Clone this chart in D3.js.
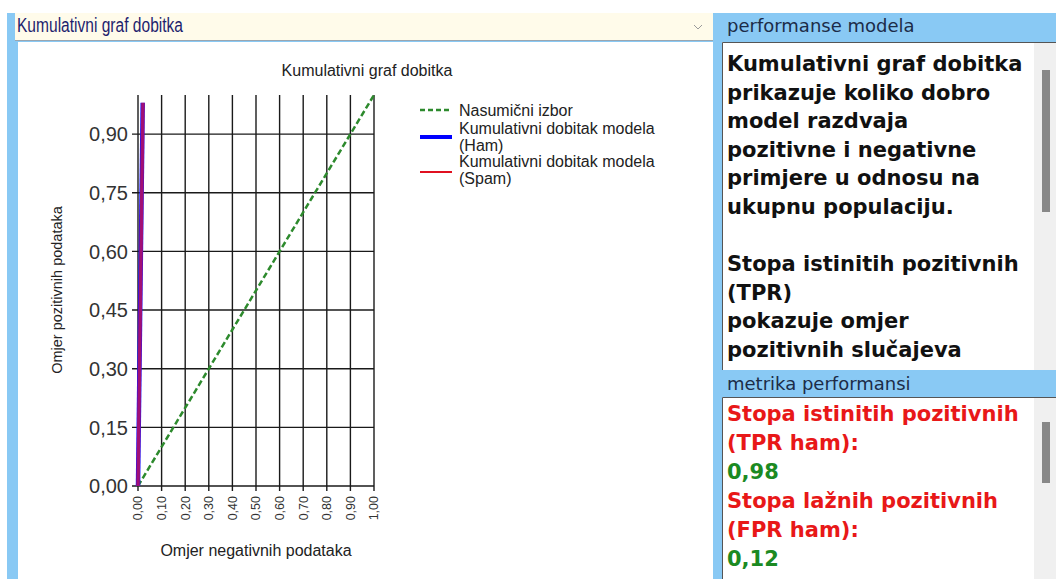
<!DOCTYPE html>
<meta charset="utf-8">
<script src="https://d3js.org/d3.v7.min.js"></script>
<style>
  body { margin: 0; background: #fff; }
  svg { display: block; }
</style>
<svg id="chart" width="1056" height="579"></svg>
<script>
// chart data
var xTicks = [0, 0.1, 0.2, 0.3, 0.4, 0.5, 0.6, 0.7, 0.8, 0.9, 1.0];
var yTicks = [0, 0.15, 0.30, 0.45, 0.60, 0.75, 0.90];
var randomX = [0, 1], randomY = [0, 1];
var hamX = [0, 0.02], hamY = [0, 0.98];
var spamX = [0, 0.021], spamY = [0, 0.98];
var legendLabels = [["Nasumični izbor"], ["Kumulativni dobitak modela", "(Ham)"], ["Kumulativni dobitak modela", "(Spam)"]];

// side panel texts
var infoLines = ["Kumulativni graf dobitka", "prikazuje koliko dobro", "model razdvaja", "pozitivne i negativne",
  "primjere u odnosu na", "ukupnu populaciju.", "", "Stopa istinitih pozitivnih", "(TPR)", "pokazuje omjer", "pozitivnih slučajeva"];
var metricLines = [["Stopa istinitih pozitivnih", "lbl"], ["(TPR ham):", "lbl"], ["0,98", "val"],
  ["Stopa lažnih pozitivnih", "lbl"], ["(FPR ham):", "lbl"], ["0,12", "val"]];

var locale = d3.formatLocale({decimal: ",", thousands: ".", grouping: [3], currency: ["", ""]});
var fmt = locale.format(".2f");

var svg = d3.select("#chart");
var blue = "#89c9f4";

// window frame
svg.append("rect").attr("x", 7).attr("y", 13).attr("width", 1049).attr("height", 566).attr("fill", blue);
// dropdown
svg.append("rect").attr("x", 15).attr("y", 13).attr("width", 698).attr("height", 27).attr("fill", "#fffbea");
svg.append("line").attr("x1", 15).attr("x2", 713).attr("y1", 40.5).attr("y2", 40.5).attr("stroke", "#9aa6b0");
svg.append("text").attr("x", 17).attr("y", 32).text("Kumulativni graf dobitka")
  .attr("textLength", 166).attr("lengthAdjust", "spacingAndGlyphs")
  .style("font", "20px 'Liberation Sans', Arial, sans-serif").attr("fill", "#1e1e6e");
svg.append("path").attr("d", "M694,25 L698,29 L702,25").attr("fill", "none").attr("stroke", "#9a9a9a");

// chart background
svg.append("rect").attr("x", 18).attr("y", 42).attr("width", 695).attr("height", 537).attr("fill", "#fff");

var x = d3.scaleLinear().domain([0, 1]).range([138, 374]);
var y = d3.scaleLinear().domain([0, 1]).range([486, 95]);

var g = svg.append("g");

// vertical grid
g.selectAll(".vgrid").data(xTicks).enter().append("line")
  .attr("x1", d => x(d)).attr("x2", d => x(d)).attr("y1", y(1)).attr("y2", y(0) + 5)
  .attr("stroke", "#1a1a1a").attr("stroke-width", 1.4);
// horizontal grid
g.selectAll(".hgrid").data(yTicks).enter().append("line")
  .attr("x1", x(0) - 6).attr("x2", x(1)).attr("y1", d => y(d)).attr("y2", d => y(d))
  .attr("stroke", "#1a1a1a").attr("stroke-width", 1.4);

// y tick labels
g.selectAll(".ylab").data(yTicks).enter().append("text")
  .attr("x", 128).attr("y", d => y(d)).attr("dy", "0.36em").attr("text-anchor", "end")
  .text(d => fmt(d)).style("font", "20px 'Liberation Sans', Arial, sans-serif").attr("fill", "#333");
// x tick labels
g.selectAll(".xlab").data(xTicks).enter().append("text")
  .attr("transform", d => "translate(" + x(d) + ",496) rotate(-90)")
  .attr("dy", "0.35em").attr("text-anchor", "end")
  .text(d => fmt(d)).style("font", "12.5px 'Liberation Sans', Arial, sans-serif").attr("fill", "#333");

// titles
g.append("text").attr("x", 367).attr("y", 76).attr("text-anchor", "middle").text("Kumulativni graf dobitka")
  .style("font", "16px 'Liberation Sans', Arial, sans-serif").attr("fill", "#222");
g.append("text").attr("x", 256).attr("y", 556).attr("text-anchor", "middle").text("Omjer negativnih podataka")
  .style("font", "16px 'Liberation Sans', Arial, sans-serif").attr("fill", "#222");
g.append("text").attr("transform", "translate(62,290) rotate(-90)").attr("text-anchor", "middle")
  .text("Omjer pozitivnih podataka").style("font", "14.5px 'Liberation Sans', Arial, sans-serif").attr("fill", "#222");

var line = d3.line().x(d => x(d[0])).y(d => y(d[1]));
g.append("path").datum(d3.zip(randomX, randomY)).attr("d", line)
  .attr("fill", "none").attr("stroke", "#2d8a2d").attr("stroke-width", 2.5).attr("stroke-dasharray", "6,3");
g.append("path").datum(d3.zip(hamX, hamY)).attr("d", line)
  .attr("fill", "none").attr("stroke", "#1010ff").attr("stroke-width", 4.5);
g.append("path").datum(d3.zip(spamX, spamY)).attr("d", line)
  .attr("fill", "none").attr("stroke", "#e0103a").attr("stroke-width", 3.5).attr("stroke-opacity", 0.7);

// legend
var legY = [110, 128, 161];
var legStyle = [{c: "#2d8a2d", w: 2.5, dash: "5,3", sy: 110}, {c: "#0000ff", w: 4, dash: null, sy: 137}, {c: "#e01020", w: 2, dash: null, sy: 172}];
legendLabels.forEach(function(lines, i) {
  var s = legStyle[i];
  g.append("line").attr("x1", 420).attr("x2", 452).attr("y1", s.sy).attr("y2", s.sy)
    .attr("stroke", s.c).attr("stroke-width", s.w).attr("stroke-dasharray", s.dash);
  lines.forEach(function(t, j) {
    g.append("text").attr("x", 459).attr("y", legY[i] + j * 17).attr("dy", "0.36em").text(t)
      .style("font", "16px 'Liberation Sans', Arial, sans-serif").attr("fill", "#222");
  });
});

// right panel
var panel = svg.append("g");
panel.append("text").attr("x", 727).attr("y", 32).text("performanse modela")
  .style("font", "18px 'DejaVu Sans', sans-serif").attr("fill", "#1c2c48");
panel.append("text").attr("x", 727).attr("y", 390).text("metrika performansi")
  .style("font", "18px 'DejaVu Sans', sans-serif").attr("fill", "#1c2c48");

function box(y0, h, thumbY, thumbH) {
  panel.append("rect").attr("x", 722).attr("y", y0).attr("width", 334).attr("height", h).attr("fill", "#fff");
  panel.append("path").attr("d", "M722.5," + (y0 + h) + " V" + (y0 + 0.5) + " H1056").attr("fill", "none").attr("stroke", "#555");
  panel.append("rect").attr("x", 1034).attr("y", y0 + 1).attr("width", 22).attr("height", h - 1).attr("fill", "#f0f0f0");
  panel.append("rect").attr("x", 1042).attr("y", thumbY).attr("width", 8).attr("height", thumbH).attr("fill", "#888");
}
box(42, 328, 70, 142);
box(397, 182, 422, 61);

panel.append("g").selectAll("text").data(infoLines).enter().append("text")
  .attr("x", 727).attr("y", (d, i) => 71 + i * 28.6).text(d => d)
  .style("font", "bold 21px 'DejaVu Sans', sans-serif").attr("fill", "#111");
panel.append("g").selectAll("text").data(metricLines).enter().append("text")
  .attr("x", 727).attr("y", (d, i) => 421 + i * 29).text(d => d[0])
  .style("font", "bold 21px 'DejaVu Sans', sans-serif").attr("fill", d => d[1] === "lbl" ? "#e81818" : "#1b8a22");
</script>
